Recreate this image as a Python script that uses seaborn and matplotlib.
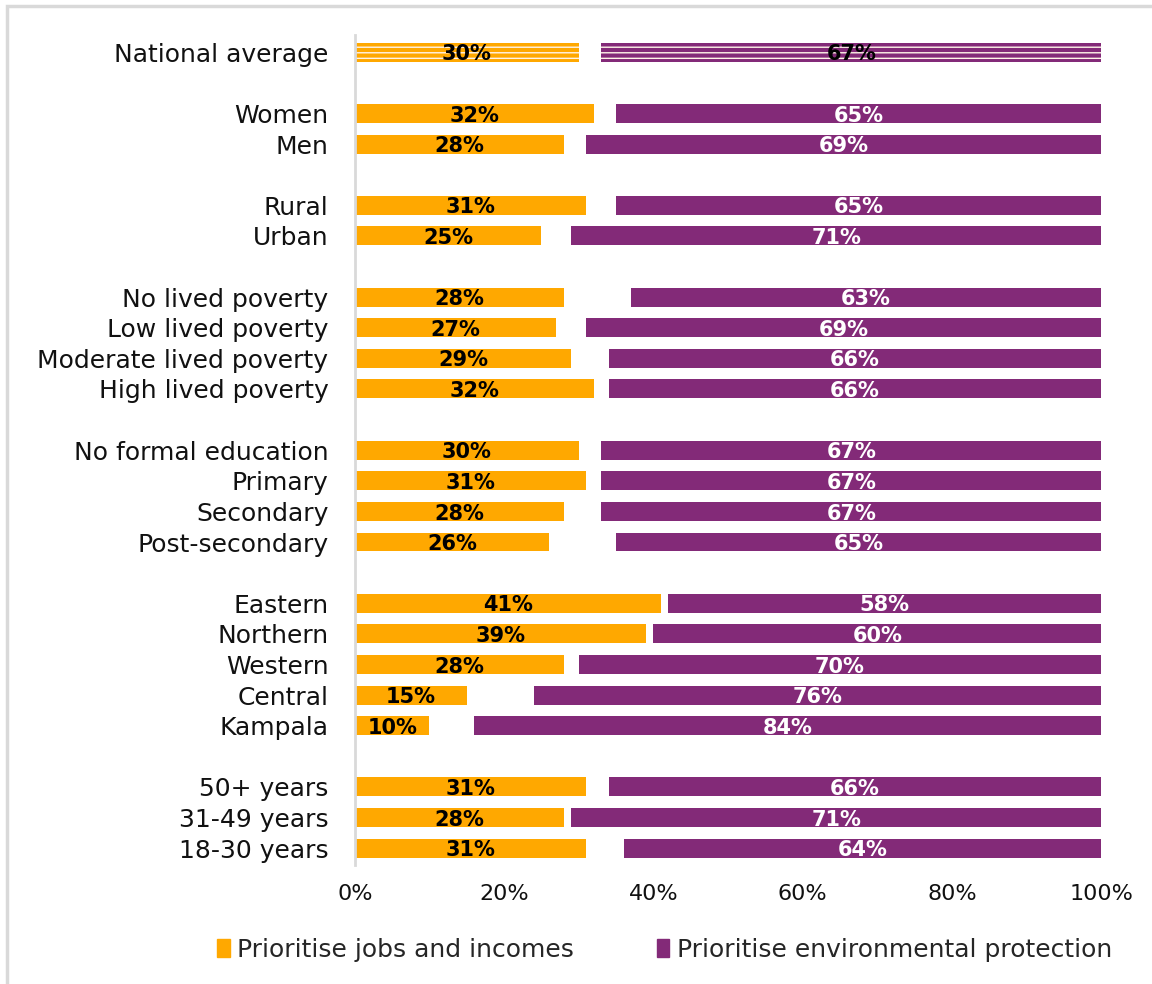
import matplotlib
matplotlib.use("Agg")
import matplotlib.pyplot as plt
import matplotlib.patches as mpatches
import seaborn as sns
import pandas as pd

# Survey groups (empty strings are spacer rows between groups)
categories = [
    "National average", "",
    "Women", "Men", "",
    "Rural", "Urban", "",
    "No lived poverty", "Low lived poverty", "Moderate lived poverty", "High lived poverty", "",
    "No formal education", "Primary", "Secondary", "Post-secondary", "",
    "Eastern", "Northern", "Western", "Central", "Kampala", "",
    "50+ years", "31-49 years", "18-30 years",
]
jobs = [30, None, 32, 28, None, 31, 25, None, 28, 27, 29, 32, None,
        30, 31, 28, 26, None, 41, 39, 28, 15, 10, None, 31, 28, 31]
environment = [67, None, 65, 69, None, 65, 71, None, 63, 69, 66, 66, None,
               67, 67, 67, 65, None, 58, 60, 70, 76, 84, None, 66, 71, 64]
tick_labels = ["0%", "20%", "40%", "60%", "80%", "100%"]
series_names = ["Prioritise jobs and incomes", "Prioritise environmental protection"]

ORANGE = "#FFA800"
PURPLE = "#832A78"

sns.set_theme(style="white")
plt.rcParams["font.family"] = ["DejaVu Sans"]
plt.rcParams["hatch.linewidth"] = 1.0

# unique keys so spacer rows stay separate categories
keys = [c if c else " " * (i + 1) for i, c in enumerate(categories)]
df = pd.DataFrame({"key": keys, "jobs": jobs, "env": environment})
rows = df.dropna().reset_index(drop=True)

fig = plt.figure(figsize=(11.52, 9.84), dpi=100)
ax = fig.add_axes([0.308, 0.121, 0.648, 0.843])

sns.barplot(data=rows, y="key", x="jobs", order=keys, orient="h",
            color=ORANGE, saturation=1, width=0.62, linewidth=0, ax=ax)
sns.barplot(data=rows, y="key", x="env", order=keys, orient="h",
            left=100 - rows["env"], color=PURPLE, saturation=1,
            width=0.62, linewidth=0, ax=ax)

# hatched national average bars
pos = {k: i for i, k in enumerate(keys)}
for patch in ax.patches:
    cy = patch.get_y() + patch.get_height() / 2
    if abs(cy - pos["National average"]) < 0.01:
        patch.set_hatch("---")
        patch.set_edgecolor("#FFF4E8")
        patch.set_linewidth(0)

# value labels
for _, r in rows.iterrows():
    y = pos[r["key"]] + 0.07
    ax.text(r["jobs"] / 2, y, f"{int(r['jobs'])}%", ha="center", va="center",
            fontsize=15, fontweight="bold", color="black")
    env_color = "black" if r["key"] == "National average" else "white"
    ax.text(100 - r["env"] / 2, y, f"{int(r['env'])}%", ha="center", va="center",
            fontsize=15, fontweight="bold", color=env_color)

ax.set_xlim(0, 100)
ax.set_ylim(26.55, -0.55)
ax.set_xticks([0, 20, 40, 60, 80, 100])
ax.set_xticklabels(tick_labels, fontsize=16, color="#111111")
ax.set_yticks(range(len(keys)))
ax.set_yticklabels(categories, fontsize=18, color="#111111")
ax.tick_params(axis="y", length=0, pad=19)
ax.tick_params(axis="x", length=0, pad=14)
ax.set_xlabel("")
ax.set_ylabel("")
for side in ["top", "right", "bottom"]:
    ax.spines[side].set_visible(False)
ax.spines["left"].set_color("#D9D9D9")
ax.spines["left"].set_linewidth(2)

handles = [mpatches.Patch(color=ORANGE, label=series_names[0]),
           mpatches.Patch(color=PURPLE, label=series_names[1])]
fig.legend(handles=handles, loc="center", bbox_to_anchor=(0.577, 0.035),
           ncol=2, frameon=False, fontsize=18, handlelength=0.5,
           handleheight=0.7, handletextpad=0.3, columnspacing=3.3)

# outer frame
frame = mpatches.Rectangle((7 / 1152, -0.1), 1.2, 1 - 6 / 984 + 0.1,
                           transform=fig.transFigure, fill=False,
                           edgecolor="#D9D9D9", linewidth=2.5)
fig.add_artist(frame)

fig.savefig("out.png", dpi=100, facecolor="white")
